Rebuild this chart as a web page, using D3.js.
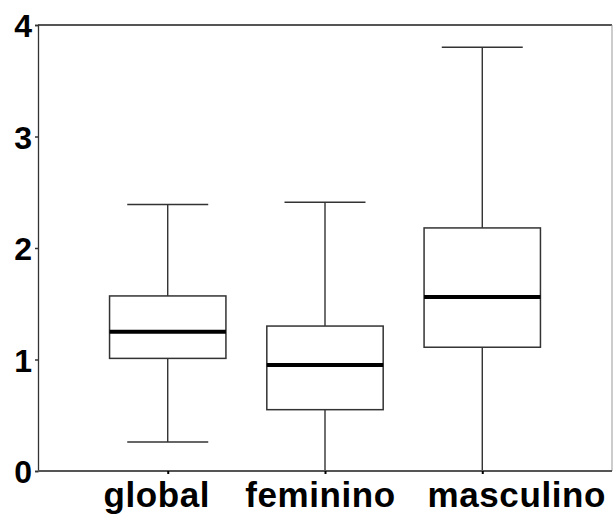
<!DOCTYPE html>
<html><head><meta charset="utf-8">
<script src="https://cdn.jsdelivr.net/npm/d3@7"></script>
<style>body{margin:0;background:#fff}svg{display:block}</style>
</head><body>
<script>
const categories = ["global", "feminino", "masculino"];
const whiskerLow  = [0.26, 0.00, 0.00];
const q1          = [1.01, 0.55, 1.11];
const median      = [1.25, 0.95, 1.56];
const q3          = [1.57, 1.30, 2.18];
const whiskerHigh = [2.39, 2.41, 3.80];
const yTicks = [0, 1, 2, 3, 4];

(function () {
const W = 613, H = 519;
const pLeft = 38, pRight = 612, pTop = 25, pBottom = 471;
const labelShift = [-11.5, -5, 34];

const svg = d3.select("body").append("svg").attr("width", W).attr("height", H);

const x = d3.scalePoint().domain(categories).range([pLeft, pRight]).padding(0.825);
const y = d3.scaleLinear().domain([0, 4]).range([pBottom, pTop]);
const step = x.step();
const boxW = step * 0.74;
const capW = step * 0.515;

svg.append("line").attr("x1", pLeft).attr("x2", pRight).attr("y1", pTop).attr("y2", pTop)
  .attr("stroke", "#555").attr("stroke-width", 2);
svg.append("line").attr("x1", pRight).attr("x2", pRight).attr("y1", pTop).attr("y2", pBottom)
  .attr("stroke", "#999").attr("stroke-width", 1);

const data = categories.map((c, i) => ({c, lo: whiskerLow[i], q1: q1[i], med: median[i], q3: q3[i], hi: whiskerHigh[i]}));

const g = svg.append("g").selectAll("g").data(data).join("g");
g.append("line").attr("x1", d => x(d.c)).attr("x2", d => x(d.c))
  .attr("y1", d => y(d.hi)).attr("y2", d => y(d.q3)).attr("stroke", "#222").attr("stroke-width", 1.3);
g.append("line").attr("x1", d => x(d.c)).attr("x2", d => x(d.c))
  .attr("y1", d => y(d.q1)).attr("y2", d => y(d.lo)).attr("stroke", "#222").attr("stroke-width", 1.3);
g.append("line").attr("x1", d => x(d.c) - capW/2).attr("x2", d => x(d.c) + capW/2)
  .attr("y1", d => y(d.hi)).attr("y2", d => y(d.hi)).attr("stroke", "#333").attr("stroke-width", 1.5);
g.filter(d => d.lo > 0).append("line").attr("x1", d => x(d.c) - capW/2).attr("x2", d => x(d.c) + capW/2)
  .attr("y1", d => y(d.lo)).attr("y2", d => y(d.lo)).attr("stroke", "#333").attr("stroke-width", 1.5);
g.append("rect").attr("x", d => x(d.c) - boxW/2).attr("width", boxW)
  .attr("y", d => y(d.q3)).attr("height", d => y(d.q1) - y(d.q3))
  .attr("fill", "#fff").attr("stroke", "#333").attr("stroke-width", 1.5);
g.append("line").attr("x1", d => x(d.c) - boxW/2).attr("x2", d => x(d.c) + boxW/2)
  .attr("y1", d => y(d.med)).attr("y2", d => y(d.med)).attr("stroke", "#000").attr("stroke-width", 4);

const ya = svg.append("g").attr("transform", `translate(${pLeft},0)`)
  .call(d3.axisLeft(y).tickValues(yTicks).tickFormat(d3.format("d")).tickSize(3).tickPadding(3));
ya.select(".domain").attr("stroke", "#333").attr("stroke-width", 1.3);
ya.selectAll(".tick line").attr("stroke", "#333").attr("stroke-width", 1.5);
ya.selectAll("text").attr("font-family", "Liberation Sans, Arial, sans-serif")
  .attr("font-size", 32).attr("font-weight", "bold").attr("fill", "#000").attr("dy", "0.36em");

const xa = svg.append("g").attr("transform", `translate(0,${pBottom})`)
  .call(d3.axisBottom(x).tickSize(3).tickPadding(8));
xa.select(".domain").attr("stroke", "#555").attr("stroke-width", 2).attr("d", `M${pLeft},0H${pRight}`);
xa.selectAll(".tick line").attr("stroke", "#000").attr("stroke-width", 2);
xa.selectAll("text").attr("font-family", "Liberation Sans, Arial, sans-serif")
  .attr("font-size", 35).attr("font-weight", "bold").attr("fill", "#000").attr("dy", "0.71em")
  .style("letter-spacing", "0.6px")
  .attr("dx", (d, i) => labelShift[i]);
})();
</script>
</body></html>
